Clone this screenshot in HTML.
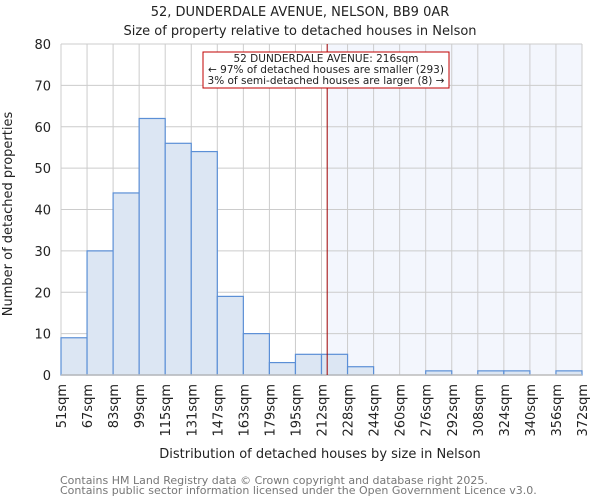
<!DOCTYPE html>
<html><head><meta charset="utf-8"><style>
body{margin:0;background:#fff;font-family:"DejaVu Sans","Liberation Sans",sans-serif}
svg text{font-family:"DejaVu Sans","Liberation Sans",sans-serif}
</style></head><body>
<svg id="c" width="600" height="500" xmlns="http://www.w3.org/2000/svg">
<text x="300" y="16" text-anchor="middle" font-size="13" fill="#222">52, DUNDERDALE AVENUE, NELSON, BB9 0AR</text>
<text x="300" y="35" text-anchor="middle" font-size="13" fill="#222">Size of property relative to detached houses in Nelson</text>
<g id="plot"></g>
<text x="320" y="458" text-anchor="middle" font-size="13" fill="#222">Distribution of detached houses by size in Nelson</text>
<text transform="translate(12,214) rotate(-90)" text-anchor="middle" font-size="13" fill="#222">Number of detached properties</text>
<text x="60" y="484" font-size="11" fill="#777">Contains HM Land Registry data © Crown copyright and database right 2025.</text>
<text x="60" y="494" font-size="11" fill="#777">Contains public sector information licensed under the Open Government Licence v3.0.</text>
</svg>
<script>
const categories=["51sqm","67sqm","83sqm","99sqm","115sqm","131sqm","147sqm","163sqm","179sqm","195sqm","212sqm","228sqm","244sqm","260sqm","276sqm","292sqm","308sqm","324sqm","340sqm","356sqm","372sqm"];
const counts=[9,30,44,62,56,54,19,10,3,5,5,2,0,0,1,0,1,1,0,1];
const yTicks=[0,10,20,30,40,50,60,70,80];
const binStart=51, binWidth=16.05, propertySize=215;
const X0=61,X1=582,Y0=375,Y1=44,YMAX=80;
const n=counts.length;
const xs=v=>X0+(v-binStart)/(binWidth*n)*(X1-X0);
const xi=i=>X0+i*(X1-X0)/n;
const ys=v=>Y0-v/YMAX*(Y0-Y1);
const NS="http://www.w3.org/2000/svg";
const g=document.getElementById('plot');
function mk(t,a){const e=document.createElementNS(NS,t);for(const k in a)e.setAttribute(k,a[k]);g.appendChild(e);return e;}
const lx=xs(propertySize);
let e=mk('rect',{x:lx,y:Y1,width:X1-lx,height:Y0-Y1,fill:'#f3f6fd'});


for(let i=0;i<=n;i++){e=mk('line',{x1:xi(i),x2:xi(i),y1:Y1,y2:Y0,stroke:'#cccccc','stroke-width':1});

}
yTicks.forEach(t=>{e=mk('line',{x1:X0,x2:X1,y1:ys(t),y2:ys(t),stroke:'#cccccc','stroke-width':1});


const tx=mk('text',{x:X0-10,y:ys(t)+5,'text-anchor':'end','font-size':13,fill:'#222'});tx.textContent=t;

});
counts.forEach((c,i)=>{if(c<=0)return;const b=mk('rect',{x:xi(i),y:ys(c),width:xi(i+1)-xi(i),height:Y0-ys(c),fill:'#dce6f3',stroke:'#5b8fd6','stroke-width':1.2});

});
categories.forEach((c,i)=>{const t=mk('text',{transform:`translate(${xi(i)+5},384) rotate(-90)`,'text-anchor':'end','font-size':13,fill:'#222'});t.textContent=c;

});
e=mk('line',{x1:X0,x2:X1,y1:Y0,y2:Y0,stroke:'#bbbbbb','stroke-width':1.5});


e=mk('line',{x1:lx,x2:lx,y1:Y1,y2:Y0,stroke:'#a00000','stroke-width':1});


e=mk('rect',{x:203,y:52,width:246,height:36,fill:'#fff',stroke:'#c00000','stroke-width':1});


["52 DUNDERDALE AVENUE: 216sqm","← 97% of detached houses are smaller (293)","3% of semi-detached houses are larger (8) →"].forEach((s,i)=>{const t=mk('text',{x:326,y:62+i*11,'text-anchor':'middle','font-size':10.5,fill:'#222'});t.textContent=s;

});
</script>
</body></html>
